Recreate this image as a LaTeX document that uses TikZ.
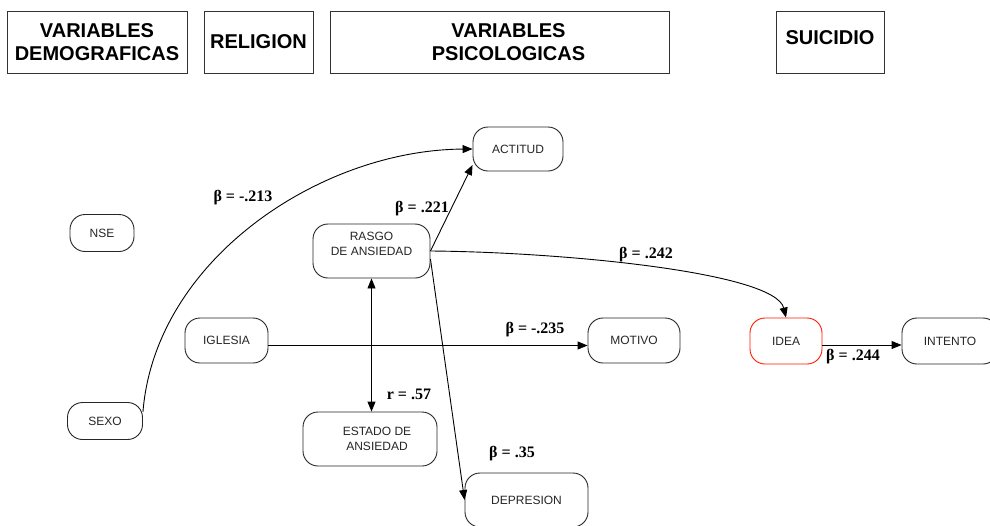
\documentclass[tikz,border=0pt]{standalone}
\usepackage{fontspec}
\setmainfont{Liberation Serif}
\newfontfamily\arialf{Liberation Sans}
\usetikzlibrary{arrows.meta}
\newcommand\hdrfont{\arialf\bfseries\fontsize{20}{23}\selectfont}
\newcommand\varfont{\arialf\fontsize{12}{15}\selectfont}
\newcommand\labfont{\bfseries\fontsize{16}{18}\selectfont}
\begin{document}
\begin{tikzpicture}[x=1pt,y=-1pt,
  hdr/.style={draw=black!80, line width=1pt, font=\hdrfont, align=center, inner sep=0pt},
  var/.style={draw=black!85, line width=0.9pt, rounded corners=15pt, font=\varfont, align=center, inner sep=0pt, text=black!85},
  lab/.style={font=\labfont, inner sep=0pt},
  arr/.style={-{Triangle[length=10pt,width=8pt]}, line width=0.9pt},
  darr/.style={{Triangle[length=10pt,width=8pt]}-{Triangle[length=10pt,width=8pt]}, line width=0.9pt}]
\useasboundingbox[fill=white] (0,0) rectangle (990,525);
% headers
\node[hdr, minimum width=180pt, minimum height=62pt] (hdem) at (97,42) {VARIABLES\\DEMOGRAFICAS};
\node[hdr, minimum width=109pt, minimum height=62pt] (hrel) at (258.5,42) {RELIGION};
\node[hdr, minimum width=339pt, minimum height=62pt] (hpsi) at (499.5,42) {\hspace*{18pt}VARIABLES\\\hspace*{18pt}PSICOLOGICAS};
\node[hdr, minimum width=108pt, minimum height=62pt] (hsui) at (830,42) {\raisebox{8pt}{SUICIDIO}};
% variables
\node[var, minimum width=90pt, minimum height=44pt] (actitud) at (518,149) {ACTITUD};
\node[var, minimum width=64pt, minimum height=37pt] (nse) at (102,233) {NSE};
\node[var, minimum width=117pt, minimum height=54pt] (rasgo) at (371.5,251) {RASGO\\DE ANSIEDAD\\[-6pt]\strut};
\node[var, minimum width=83pt, minimum height=45pt] (iglesia) at (226.5,340.5) {IGLESIA};
\node[var, minimum width=92pt, minimum height=45pt] (motivo) at (634,340.5) {MOTIVO};
\node[var, minimum width=134pt, minimum height=54pt] (estado) at (370,439) {\hspace*{14pt}ESTADO DE\\\hspace*{14pt}ANSIEDAD};
\node[var, minimum width=123pt, minimum height=54pt] (depresion) at (526.5,500) {DEPRESION};
\node[var, draw=red!80!orange, minimum width=72pt, minimum height=46pt] (idea) at (786,341) {IDEA};
\node[var, minimum width=96pt, minimum height=46pt] (intento) at (950,341) {INTENTO};
\node[var, minimum width=75pt, minimum height=37pt] (sexo) at (105,421) {SEXO};
% connectors
\draw[arr] ([yshift=9pt]sexo.east) .. controls (155,260) and (320,150) .. (actitud.west);
\draw[arr] (rasgo.east) -- ([yshift=-16pt]actitud.west);
\draw[arr] (rasgo.east) .. controls (560,252) and (775,272) .. (idea.north);
\draw[arr] ([yshift=-8pt]rasgo.east) -- (depresion.west);
\draw[darr] (rasgo.south) -- (rasgo.south |- estado.north);
\draw[arr] ([yshift=-5pt]iglesia.east) -- ([yshift=-5pt]motivo.west);
\draw[arr] ([yshift=-4pt]idea.east) -- ([yshift=-4pt]intento.west);
% labels
\node[lab] (l1) at (243,198) {β = -.213};
\node[lab] (l2) at (422,209) {β = .221};
\node[lab] (l3) at (646,255) {β = .242};
\node[lab] (l4) at (535,330) {β = -.235};
\node[lab] (l5) at (409,394) {r = .57};
\node[lab] (l6) at (512,454) {β = .35};
\node[lab] (l7) at (853,357) {β = .244};
\end{tikzpicture}
\end{document}
